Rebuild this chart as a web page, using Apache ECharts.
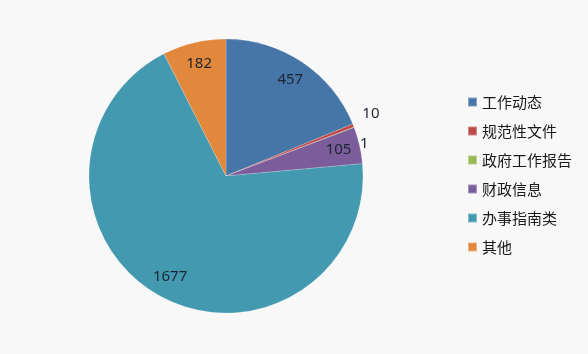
<!DOCTYPE html>
<html>
<head>
<meta charset="utf-8">
<script src="https://cdn.jsdelivr.net/npm/echarts@6/dist/echarts.min.js"></script>
<style>
  html, body { margin: 0; padding: 0; background: #f8f8f8; }
  #chart { width: 588px; height: 354px; }
</style>
</head>
<body>
<div id="chart"></div>
<script>
// 各类信息公开数量
const categories = ['工作动态', '规范性文件', '政府工作报告', '财政信息', '办事指南类', '其他'];
const values = [457, 10, 1, 105, 1677, 182];
const colors = ['#4675a8', '#be4b48', '#98b954', '#7b5d9c', '#4399b0', '#e2883c'];
// small slices get their labels outside, the rest inside
const outsideIdx = [1, 2];

const chart = echarts.init(document.getElementById('chart'));

const pieData = categories.map((name, i) => ({
  name: name,
  value: values[i],
  itemStyle: { color: colors[i] },
  label: { show: outsideIdx.indexOf(i) >= 0 }
}));

// transparent ring only used to put the inside labels near the rim
const ringData = categories.map((name, i) => ({
  name: name,
  value: values[i],
  label: { show: outsideIdx.indexOf(i) < 0 }
}));

const labelFont = {
  formatter: '{c}',
  fontFamily: 'Noto Sans',
  fontSize: 15,
  color: '#1b2431'
};

const options = {
  backgroundColor: '#f8f8f8',
  animation: false,
  color: colors,
  legend: {
    data: categories,
    orient: 'vertical',
    left: 462,
    top: 88,
    icon: 'rect',
    itemWidth: 9,
    itemHeight: 9,
    itemGap: 11,
    textStyle: {
      fontFamily: 'Noto Sans CJK SC',
      fontSize: 15,
      lineHeight: 18,
      color: '#1a1a1a'
    }
  },
  series: [
    {
      name: 'main',
      type: 'pie',
      center: [226, 176],
      radius: 137,
      startAngle: 90,
      clockwise: true,
      avoidLabelOverlap: false,
      itemStyle: { borderColor: 'rgba(255,255,255,0.35)', borderWidth: 0.5 },
      label: Object.assign({ position: 'outside' }, labelFont),
      labelLine: { show: false, length: 0, length2: 4 },
      labelLayout: function (params) {
        if (params.dataIndex === 1) return { dy: -12 };
        if (params.dataIndex === 2) return { dy: 16, dx: -3 };
        return {};
      },
      emphasis: { disabled: true },
      data: pieData
    },
    {
      name: 'labels',
      type: 'pie',
      center: [226, 176],
      radius: [88, 137],
      startAngle: 90,
      clockwise: true,
      silent: true,
      legendHoverLink: false,
      itemStyle: { color: 'rgba(0,0,0,0)' },
      label: Object.assign({ position: 'inside' }, labelFont),
      labelLine: { show: false },
      emphasis: { disabled: true },
      data: ringData
    }
  ]
};

chart.setOption(options);
</script>
</body>
</html>
